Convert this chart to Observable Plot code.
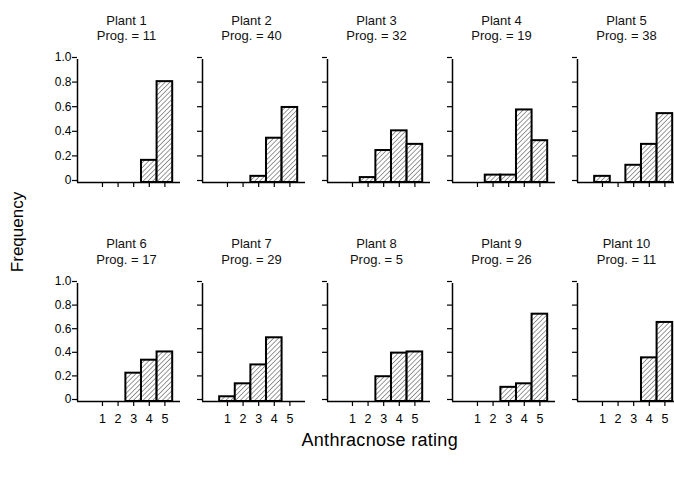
<!DOCTYPE html>
<html>
<head>
<meta charset="utf-8">
<script src="https://cdn.jsdelivr.net/npm/d3@7"></script>
<script src="https://cdn.jsdelivr.net/npm/@observablehq/plot@0.6"></script>
<style>
  html, body { margin: 0; padding: 0; background: #fff; }
  #root { position: relative; width: 674px; height: 477px; overflow: hidden; font-family: "Liberation Sans", Arial, sans-serif; color: #000; background: #fff; }
  .panel { position: absolute; }
  .panel svg { max-width: none !important; }
  .ttl { position: absolute; width: 140px; text-align: center; font-size: 13px; line-height: 15px; color: #111; }
  .ylab { position: absolute; font-size: 17px; transform: rotate(-90deg); transform-origin: center center; white-space: nowrap; }
  .xlab { position: absolute; font-size: 18px; white-space: nowrap; letter-spacing: 0.3px; }
</style>
</head>
<body>
<svg width="0" height="0" style="position:absolute">
  <defs>
    <pattern id="hatch" patternUnits="userSpaceOnUse" width="3.4" height="3.4" patternTransform="rotate(45)">
      <rect width="3.4" height="3.4" fill="#fff"></rect>
      <line x1="0" y1="0" x2="0" y2="3.4" stroke="#333" stroke-width="1"></line>
    </pattern>
  </defs>
</svg>
<div id="root"></div>
<script>
// ---- data ----
const ratings = [1, 2, 3, 4, 5];
const plantNames = ["Plant 1", "Plant 2", "Plant 3", "Plant 4", "Plant 5",
                    "Plant 6", "Plant 7", "Plant 8", "Plant 9", "Plant 10"];
const progeny = [11, 40, 32, 19, 38, 17, 29, 5, 26, 11];
const freqPlant1  = [0, 0, 0, 0.18, 0.82];
const freqPlant2  = [0, 0, 0.05, 0.36, 0.61];
const freqPlant3  = [0, 0.04, 0.26, 0.42, 0.31];
const freqPlant4  = [0, 0.06, 0.06, 0.59, 0.34];
const freqPlant5  = [0.05, 0, 0.14, 0.31, 0.56];
const freqPlant6  = [0, 0, 0.24, 0.35, 0.42];
const freqPlant7  = [0.04, 0.15, 0.31, 0.54, 0];
const freqPlant8  = [0, 0, 0.21, 0.41, 0.42];
const freqPlant9  = [0, 0, 0.12, 0.15, 0.74];
const freqPlant10 = [0, 0, 0, 0.37, 0.67];
const yTicks = [0, 0.2, 0.4, 0.6, 0.8, 1.0];
const yLabel = "Frequency";
const xLabel = "Anthracnose rating";

const allFreq = [freqPlant1, freqPlant2, freqPlant3, freqPlant4, freqPlant5,
                 freqPlant6, freqPlant7, freqPlant8, freqPlant9, freqPlant10];

// ---- layout ----
const root = document.getElementById("root");
const colAxisX = [77, 202, 327, 452, 577];
const rows = [{y0: 182, y1: 59, titleTop: 13}, {y0: 401, y1: 283, titleTop: 236}];
const plotW = 103;
const xDomain = [-0.6, 6.0];

allFreq.forEach((freq, i) => {
  const col = i % 5, row = Math.floor(i / 5);
  const R = rows[row];
  const mL = col === 0 ? 40 : 10, mR = 4, mT = 8, mB = 32;
  const width = mL + plotW + mR;
  const height = mT + (R.y0 - R.y1) + mB;
  const data = ratings.map((r, k) => ({r, v: freq[k]})).filter(d => d.v > 0);

  const marks = [
    Plot.rect(data, {x1: d => d.r - 0.5, x2: d => d.r + 0.5, y1: 0, y2: "v",
                     fill: "url(#hatch)", stroke: "#000", strokeWidth: 2}),
    Plot.ruleX([xDomain[0]], {y1: 0, y2: 1, stroke: "#000", strokeWidth: 1.5}),
    Plot.ruleY([0], {x1: xDomain[0], x2: xDomain[1], stroke: "#000", strokeWidth: 1.5}),
    Plot.axisY({ticks: yTicks, tickSize: 5, tickPadding: 1, dy: -2, fontSize: 12,
                tickFormat: col === 0 ? (d => d === 0 ? "0" : d.toFixed(1)) : (() => ""),
                label: null, strokeWidth: 1.2}),
    Plot.axisX({ticks: ratings, tickSize: 5, tickPadding: 8, fontSize: 12.5,
                tickFormat: row === 1 ? (d => String(d)) : (() => ""),
                label: null, strokeWidth: 1.2})
  ];

  const chart = Plot.plot({
    width, height,
    marginLeft: mL, marginRight: mR, marginTop: mT, marginBottom: mB,
    style: {background: "transparent", color: "#000", fontFamily: "Liberation Sans, Arial, sans-serif", overflow: "visible", maxWidth: "none"},
    x: {domain: xDomain},
    y: {domain: [0, 1]},
    marks
  });
  const wrap = document.createElement("div");
  wrap.className = "panel";
  wrap.style.left = (colAxisX[col] - mL) + "px";
  wrap.style.top = (R.y1 - mT) + "px";
  wrap.style.width = width + "px";
  wrap.style.height = height + "px";
  wrap.appendChild(chart);
  root.appendChild(wrap);

  const t = document.createElement("div");
  t.className = "ttl";
  t.style.left = (colAxisX[col] + plotW / 2 - 70 - 2) + "px";
  t.style.top = R.titleTop + "px";
  t.style.lineHeight = row === 0 ? "15px" : "16px";
  t.innerHTML = plantNames[i] + "<br>Prog. = " + progeny[i];
  root.appendChild(t);
});

const yl = document.createElement("div");
yl.className = "ylab";
yl.textContent = yLabel;
root.appendChild(yl);
yl.style.left = (18 - yl.offsetWidth / 2) + "px";
yl.style.top = (232 - yl.offsetHeight / 2) + "px";

const xl = document.createElement("div");
xl.className = "xlab";
xl.textContent = xLabel;
root.appendChild(xl);
xl.style.left = (380 - xl.offsetWidth / 2) + "px";
xl.style.top = (440 - xl.offsetHeight / 2) + "px";
</script>
</body>
</html>
